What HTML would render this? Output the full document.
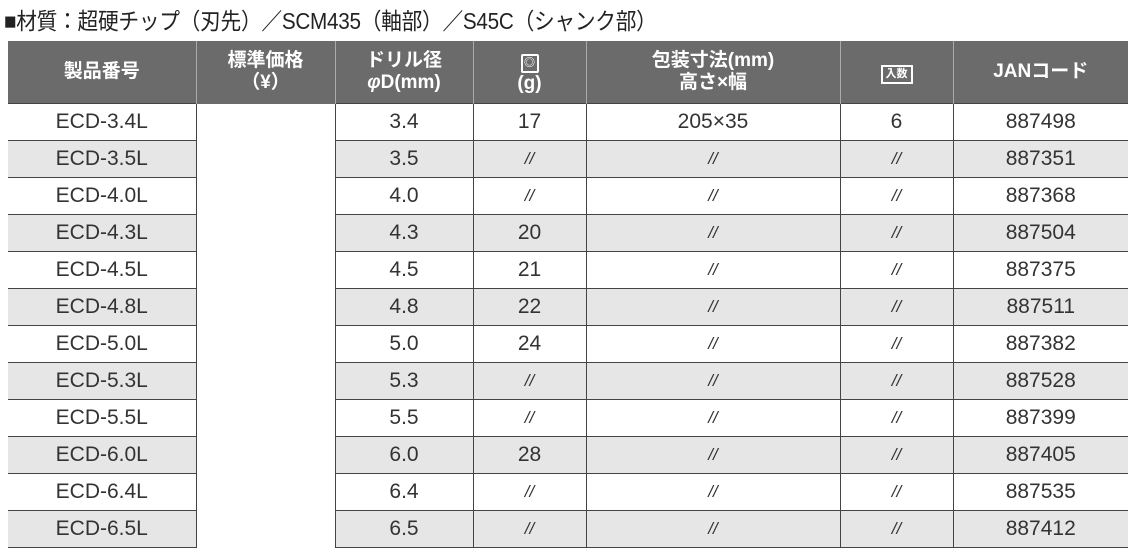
<!DOCTYPE html>
<html><head><meta charset="utf-8"><style>
body{margin:0;width:1140px;height:559px;background:#fff;position:relative;overflow:hidden;font-family:"Liberation Sans","Noto Sans CJK JP",sans-serif;color:#333}
.t{position:absolute;left:4px;top:2px;font-size:23px;color:#222;white-space:nowrap;letter-spacing:-0.3px;transform:scaleX(0.9);transform-origin:0 0}
table{position:absolute;left:8px;top:41px;border-collapse:collapse;table-layout:fixed;width:1120px}
th{background:#6b6b6b;color:#fff;font-weight:bold;font-size:19px;line-height:22px;height:62px;border-left:1px solid #aaa;padding:0;text-align:center}
th:first-child{border-left:none}
td{height:36px;border-top:1px solid #444;border-left:1px solid #444;font-size:21px;text-align:center;padding:0;color:#333}
tr td:first-child{border-left:none}
tr.g td{background:#e6e6e6}
td.p{background:#fff!important;border-top:none}
tr:last-child td{border-bottom:1px solid #444}
.d{font-style:italic;font-size:17px}
</style></head><body>
<div class="t">■材質：超硬チップ（刃先）／SCM435（軸部）／S45C（シャンク部）</div>
<table>
<colgroup><col style="width:188px"><col style="width:139px"><col style="width:138px"><col style="width:113px"><col style="width:254px"><col style="width:113px"><col style="width:175px"></colgroup>
<tr><th>製品番号</th><th>標準価格<br>（¥）</th><th>ドリル径<br><i>φ</i>D(mm)</th><th><span style="display:inline-block;width:14px;height:15px;border:2px solid #fff;border-radius:2px;font-size:11px;line-height:15px">◎</span><br>(g)</th><th>包装寸法(mm)<br>高さ×幅</th><th><span style="display:inline-block;border:2px solid #fff;font-size:11px;line-height:15px;padding:0 3px">入数</span></th><th>JANコード</th></tr>
<tr><td>ECD-3.4L</td><td class="p" rowspan="12"></td><td>3.4</td><td>17</td><td>205×35</td><td>6</td><td>887498</td></tr>
<tr class="g"><td>ECD-3.5L</td><td>3.5</td><td class="d">//</td><td class="d">//</td><td class="d">//</td><td>887351</td></tr>
<tr><td>ECD-4.0L</td><td>4.0</td><td class="d">//</td><td class="d">//</td><td class="d">//</td><td>887368</td></tr>
<tr class="g"><td>ECD-4.3L</td><td>4.3</td><td>20</td><td class="d">//</td><td class="d">//</td><td>887504</td></tr>
<tr><td>ECD-4.5L</td><td>4.5</td><td>21</td><td class="d">//</td><td class="d">//</td><td>887375</td></tr>
<tr class="g"><td>ECD-4.8L</td><td>4.8</td><td>22</td><td class="d">//</td><td class="d">//</td><td>887511</td></tr>
<tr><td>ECD-5.0L</td><td>5.0</td><td>24</td><td class="d">//</td><td class="d">//</td><td>887382</td></tr>
<tr class="g"><td>ECD-5.3L</td><td>5.3</td><td class="d">//</td><td class="d">//</td><td class="d">//</td><td>887528</td></tr>
<tr><td>ECD-5.5L</td><td>5.5</td><td class="d">//</td><td class="d">//</td><td class="d">//</td><td>887399</td></tr>
<tr class="g"><td>ECD-6.0L</td><td>6.0</td><td>28</td><td class="d">//</td><td class="d">//</td><td>887405</td></tr>
<tr><td>ECD-6.4L</td><td>6.4</td><td class="d">//</td><td class="d">//</td><td class="d">//</td><td>887535</td></tr>
<tr class="g"><td>ECD-6.5L</td><td>6.5</td><td class="d">//</td><td class="d">//</td><td class="d">//</td><td>887412</td></tr>
</table>
</body></html>
